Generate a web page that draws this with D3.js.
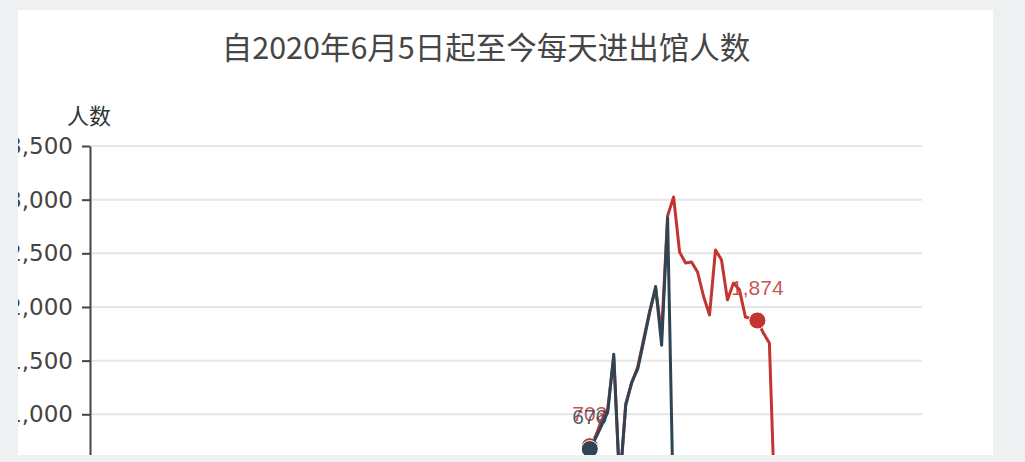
<!DOCTYPE html>
<html>
<head>
<meta charset="utf-8">
<script src="https://cdn.jsdelivr.net/npm/d3@7"></script>
<style>
  body { margin: 0; background: #eef0f2; width: 1025px; height: 462px; overflow: hidden; }
  #card { position: absolute; left: 18px; top: 10px; width: 975px; height: 445px; background: #fff; overflow: hidden; }
  text { font-family: "Noto Sans CJK SC", "Noto Sans", sans-serif; }
</style>
</head>
<body>
<div id="card"></div>
<script>
// Chart texts
const titleText = "自2020年6月5日起至今每天进出馆人数";
const yName = "人数";

// x categories: one per day
const firstDay = new Date(2020, 5, 5);
const dayCount = 139;
const days = d3.timeDay.range(firstDay, d3.timeDay.offset(firstDay, dayCount));

// Series start on this day
const seriesStart = new Date(2020, 7, 27);

// Red series
const redValues = [703, 800, 950, 1050, 1530, 330, 1100, 1290, 1440, 1700, 1960, 2170, 1750, 2850, 3025,
  2512, 2410, 2420, 2326, 2100, 1925, 2530, 2440, 2066, 2223, 2160, 1906, 1890, 1874, 1757, 1664, 0];
// Navy series
const navyValues = [676, 780, 900, 1020, 1560, 350, 1080, 1300, 1420, 1680, 1950, 2190, 1644, 2830, 0];

// Points that carry a dot and a value label (index into each series)
const redMarks = [0, 28];
const navyMarks = [0];

const yTicks = [0, 500, 1000, 1500, 2000, 2500, 3000, 3500];

const red = "#c23531";
const navy = "#2f4554";

// Page coordinates, shifted into the card
var svg = d3.select("#card")
  .append("svg")
  .attr("width", 975)
  .attr("height", 620)
  .append("g")
  .attr("transform", "translate(-18,-10)");

var x = d3.scaleBand()
  .domain(days.map(d => +d))
  .range([90, 922]);

var y = d3.scaleLinear()
  .domain([0, 3500])
  .range([521.6, 146]);

function xPos(i) {
  var d = d3.timeDay.offset(seriesStart, i);
  return x(+d) + x.bandwidth() / 2;
}

// Grid lines
svg.append("g")
  .selectAll("line")
  .data(yTicks)
  .enter()
  .append("line")
  .attr("x1", 90)
  .attr("x2", 922)
  .attr("y1", d => y(d))
  .attr("y2", d => y(d))
  .attr("stroke", "#e6e6e6")
  .attr("stroke-width", 2);

// Y axis
var yAxis = svg.append("g")
  .attr("transform", "translate(90,0)")
  .call(d3.axisLeft(y).tickValues(yTicks).tickFormat(d3.format(",")).tickSize(8).tickSizeOuter(0).tickPadding(9));

yAxis.select(".domain").attr("stroke", "#444").attr("stroke-width", 2);
yAxis.selectAll(".tick line").attr("stroke", "#444").attr("stroke-width", 2);
yAxis.selectAll("text")
  .style("font-size", "23px")
  .style("font-family", "'DejaVu Sans', sans-serif")
  .attr("fill", "#444");

// Axis name
svg.append("text")
  .attr("x", 89)
  .attr("y", 118)
  .attr("text-anchor", "middle")
  .attr("dominant-baseline", "middle")
  .style("font-size", "22px")
  .attr("fill", "#333")
  .text(yName);

// Title
svg.append("text")
  .attr("x", 486)
  .attr("y", 51)
  .attr("text-anchor", "middle")
  .attr("dominant-baseline", "middle")
  .style("font-size", "30.5px")
  .attr("fill", "#464646")
  .text(titleText);

var line = d3.line()
  .x((d, i) => xPos(i))
  .y(d => y(d));

function drawSeries(values, marks, color) {
  svg.append("path")
    .datum(values)
    .attr("fill", "none")
    .attr("stroke", color)
    .attr("stroke-width", 3)
    .attr("stroke-linejoin", "round")
    .attr("d", line);

  svg.append("g")
    .selectAll("circle")
    .data(marks)
    .enter()
    .append("circle")
    .attr("cx", i => xPos(i))
    .attr("cy", i => y(values[i]))
    .attr("r", 8.5)
    .attr("fill", color)
    .attr("stroke", "#fff")
    .attr("stroke-width", 1);

  svg.append("g")
    .selectAll("text")
    .data(marks)
    .enter()
    .append("text")
    .attr("x", i => xPos(i))
    .attr("y", i => y(values[i]) - 25)
    .attr("text-anchor", "middle")
    .style("font-size", "21px")
    .style("font-family", "'Liberation Sans', Arial, sans-serif")
    .attr("fill", color)
    .attr("fill-opacity", 0.85)
    .text(i => d3.format(",")(values[i]));
}

drawSeries(redValues, redMarks, red);
drawSeries(navyValues, navyMarks, navy);
</script>
</body>
</html>
